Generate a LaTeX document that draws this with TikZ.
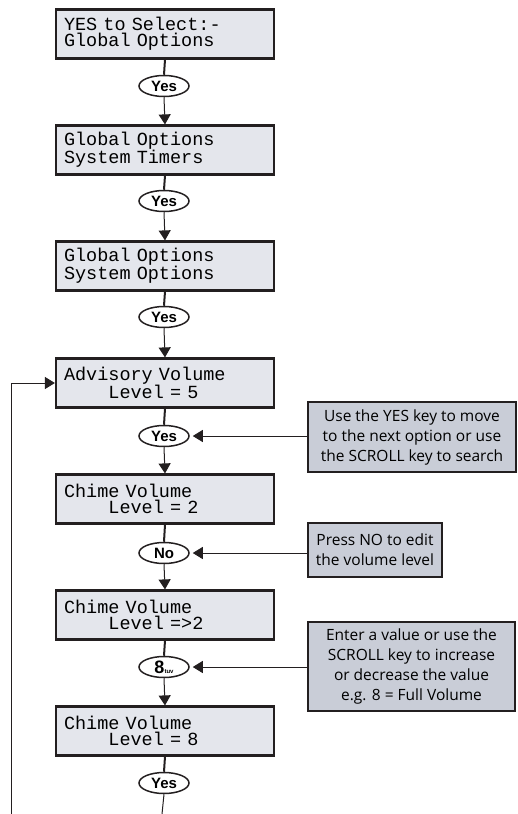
\documentclass[tikz,border=0pt]{standalone}
\usepackage{fontspec}
\setmainfont{Open Sans}
\newfontfamily\lcdfont{Liberation Mono}
\newfontfamily\keyfont{Liberation Sans}
\usetikzlibrary{arrows.meta,shapes.geometric}
\definecolor{lcdfill}{HTML}{E4E6EC}
\definecolor{notefill}{HTML}{C9CDD7}
\definecolor{ink}{HTML}{231F20}
\newcommand\lcdsetup{\lcdfont\fontsize{18.5}{16}\selectfont\spaceskip=11.1pt\relax}
\begin{document}
\begin{tikzpicture}[x=1pt,y=-1pt,
  lcd/.style={draw=ink, line width=2.2pt, fill=lcdfill, minimum width=218pt, minimum height=49pt,
    text width=202pt, inner xsep=8pt, inner ysep=0pt, align=left,
    font=\lcdsetup},
  key/.style={draw=ink, line width=1.5pt, fill=white, ellipse, minimum width=50pt, minimum height=21pt,
    inner sep=0pt, font=\keyfont\bfseries\fontsize{15}{15}\selectfont},
  note/.style={draw=ink, line width=2pt, fill=notefill, align=center, inner sep=0pt,
    font=\fontsize{15.5}{20}\selectfont},
  stem/.style={draw=ink, line width=2pt},
  flow/.style={draw=ink, line width=1pt, -{Triangle[width=12pt,length=10pt]}},
]
\useasboundingbox (0,0) rectangle (517,814);
% LCD boxes
\node[lcd] (b1) at (165,34) {YES to Select:-\\Global Options};
\node[lcd] (b2) at (165,150) {Global Options\\System Timers};
\node[lcd] (b3) at (165,266) {Global Options\\System Options};
\node[lcd] (b4) at (165,383) {Advisory Volume\\\hphantom{xxxx}Level = 5};
\node[lcd] (b5) at (165,499) {Chime Volume\\\hphantom{xxxx}Level = 2};
\node[lcd] (b6) at (165,615) {Chime Volume\\\hphantom{xxxx}Level =>2};
\node[lcd] (b7) at (165,731) {Chime Volume\\\hphantom{xxxx}Level = 8};
% keys
\node[key] (k1) at (164,86) {Yes};
\node[key] (k2) at (164,201) {Yes};
\node[key] (k3) at (164,317) {Yes};
\node[key] (k4) at (164,436) {Yes};
\node[key] (k5) at (164,553) {No};
\node[key] (k6) at (164,667) {{\fontsize{18}{18}\selectfont 8}{\fontsize{6}{6}\selectfont tuv}};
\node[key] (k7) at (164,783) {Yes};
% notes
\node[note, minimum width=208pt, minimum height=70pt] (n1) at (412,437)
  {Use the YES key to move\\to the next option or use\\the SCROLL key to search};
\node[note, minimum width=134pt, minimum height=54pt] (n2) at (375,550)
  {Press NO to edit\\the volume level};
\node[note, minimum width=207pt, minimum height=89pt] (n3) at (411.5,666.5)
  {Enter a value or use the\\SCROLL key to increase\\or decrease the value\\e.g. 8 = Full Volume};
% main flow
\foreach \b/\k/\n in {b1/k1/b2, b2/k2/b3, b3/k3/b4, b4/k4/b5, b5/k5/b6, b6/k6/b7} {
  \draw[stem] (\b.south) -- (\k.north);
  \draw[flow] (\k.south) -- (\n.north);
}
\draw[stem] (b7.south) -- (k7.north);
\coordinate (out) at (162,814);
\draw[draw=ink, line width=1pt] (k7.south) -- (out);
% note arrows
\draw[flow, shorten >=3pt] (n1.west |- k4.east) -- (k4.east);
\draw[flow, shorten >=3pt] (n2.west |- k5.east) -- (k5.east);
\draw[flow, shorten >=3pt] (n3.west |- k6.east) -- (k6.east);
% feedback loop
\coordinate (fb) at (11,814);
\draw[flow] (fb) |- (b4.west);
\end{tikzpicture}
\end{document}
